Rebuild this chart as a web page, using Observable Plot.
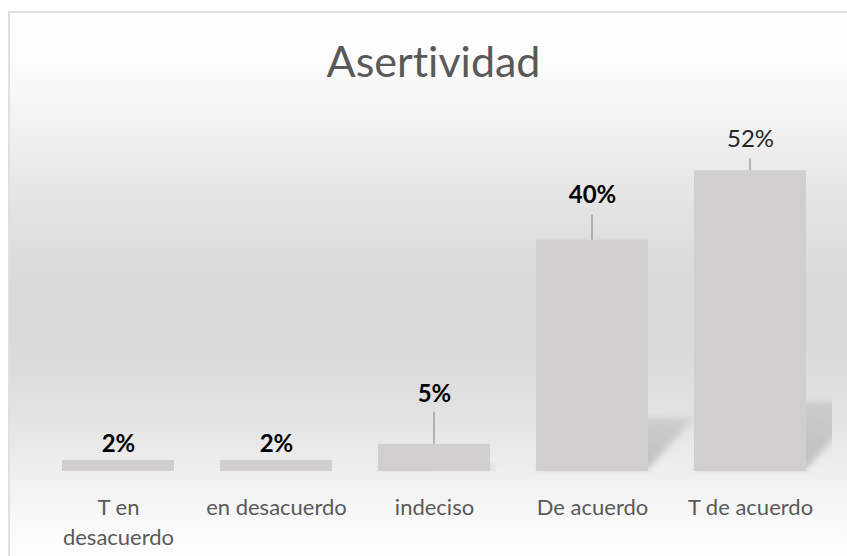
<!DOCTYPE html>
<html>
<head>
<meta charset="utf-8">
<script src="https://cdn.jsdelivr.net/npm/d3@7"></script>
<script src="https://cdn.jsdelivr.net/npm/@observablehq/plot@0.6"></script>
<style>
  html, body { margin: 0; padding: 0; background: #fff; }
  body { width: 847px; height: 556px; overflow: hidden; position: relative; font-family: Lato, "Open Sans", sans-serif; font-variant-ligatures: none; }
  #frame {
    position: absolute; left: 8px; top: 11px; width: 900px; height: 600px;
    border: 2px solid #e0e0e0; box-sizing: border-box;
    background: linear-gradient(to bottom,
      #ffffff 0px, #fcfcfc 49px, #f1f1f1 119px, #e4e4e4 189px, #d9d9d9 269px,
      #d9d9d9 329px, #e2e2e2 399px, #efefef 459px, #f9f9f9 509px, #fefefe 545px, #ffffff 600px);
  }
  #title {
    position: absolute; left: 0; top: 39px; width: 867px; text-align: center;
    font-family: Lato, sans-serif; font-size: 43px; line-height: 43px; color: #595959; font-weight: normal;
    font-variant-ligatures: none; font-feature-settings: "liga" 0, "clig" 0;
  }
  #chart { position: absolute; left: 0; top: 0; }
  #chart svg text { font-variant-ligatures: none; font-feature-settings: "liga" 0, "clig" 0; }
</style>
</head>
<body>
<div id="frame"></div>
<div id="title">Asertividad</div>
<div id="chart"></div>
<script>
// ---- data ----
const categories = ["T en desacuerdo", "en desacuerdo", "indeciso", "De acuerdo", "T de acuerdo"];
const tickLabels = ["T en\ndesacuerdo", "en desacuerdo", "indeciso", "De acuerdo", "T de acuerdo"];
const values = [1.9, 1.9, 4.7, 40, 52]; // percent
const valueLabels = ["2%", "2%", "5%", "40%", "52%"];

// ---- layout / style config ----
const labelDy = [-16.5, -16.5, -50.5, -44.5, -31];
const labelBold = [true, true, true, true, false];
const leaderLen = [0, 0, 32, 25, 12];

const data = categories.map((c, i) => ({cat: c, value: values[i], label: valueLabels[i]}));

function shadowMark(index, scales, vals, dims) {
  const ns = "http://www.w3.org/2000/svg";
  const g = document.createElementNS(ns, "g");
  const defs = document.createElementNS(ns, "defs");
  defs.innerHTML = `<filter id="shblur" x="-50%" y="-50%" width="200%" height="200%"><feGaussianBlur stdDeviation="3"/></filter>
    <linearGradient id="shgrad" x1="0" y1="1" x2="1" y2="0">
      <stop offset="0" stop-color="#b8b8b8"/><stop offset="1" stop-color="#cfcfcf"/>
    </linearGradient>
    <clipPath id="shclip"><rect x="0" y="0" width="${dims.width - dims.marginRight + 2}" height="${dims.height}"/></clipPath>`;
  g.appendChild(defs);
  const inner = document.createElementNS(ns, "g");
  inner.setAttribute("clip-path", "url(#shclip)");
  g.appendChild(inner);
  const bw = scales.x.bandwidth ? scales.x.bandwidth() : 112;
  data.forEach(d => {
    const x0 = scales.x(d.cat), x1 = x0 + bw;
    const base = scales.y(0), top = scales.y(d.value);
    const h = base - top;
    const k = 0.23 * h, dx = 0.2 * h;
    const p = document.createElementNS(ns, "polygon");
    p.setAttribute("points", `${x0},${base - 2} ${x1},${base - 2} ${x1 + dx},${base - k} ${x0 + dx},${base - k}`);
    p.setAttribute("fill", "url(#shgrad)");
    p.setAttribute("filter", "url(#shblur)");
    inner.appendChild(p);
  });
  return g;
}

function leaderMark(index, scales, vals, dims) {
  const ns = "http://www.w3.org/2000/svg";
  const g = document.createElementNS(ns, "g");
  const bw = scales.x.bandwidth ? scales.x.bandwidth() : 112;
  data.forEach((d, i) => {
    if (!leaderLen[i]) return;
    const x = scales.x(d.cat) + bw / 2;
    const y = scales.y(d.value);
    const l = document.createElementNS(ns, "line");
    l.setAttribute("x1", x); l.setAttribute("x2", x);
    l.setAttribute("y1", y); l.setAttribute("y2", y - leaderLen[i]);
    l.setAttribute("stroke", "#7f7f7f");
    l.setAttribute("stroke-width", "1");
    g.appendChild(l);
  });
  return g;
}

const labelMarks = data.map((d, i) => Plot.text([d], {
  x: "cat", y: "value", text: "label",
  dy: labelDy[i],
  fontSize: 24,
  fontWeight: labelBold[i] ? "bold" : "normal",
  fill: labelBold[i] ? "#000000" : "#262626"
}));

const chart = Plot.plot({
  width: 847,
  height: 556,
  marginLeft: 38,
  marginRight: 17,
  marginTop: 124,
  marginBottom: 85,
  style: {background: "transparent", fontFamily: "Lato, sans-serif", overflow: "visible"},
  x: {domain: categories, paddingInner: 0.293, paddingOuter: 0.1465},
  y: {domain: [0, 60], axis: null},
  marks: [
    shadowMark,
    Plot.barY(data, {x: "cat", y: "value", fill: "#d0cece"}),
    leaderMark,
    ...labelMarks,
    Plot.axisX({
      label: null,
      tickSize: 0,
      tickPadding: 22,
      tickFormat: d => tickLabels[categories.indexOf(d)],
      fontSize: 22,
      color: "#595959",
      lineHeight: 1.36
    })
  ]
});
document.getElementById("chart").appendChild(chart);
</script>
</body>
</html>
